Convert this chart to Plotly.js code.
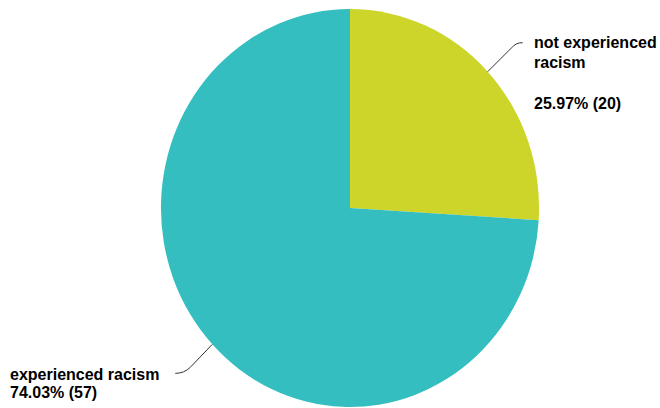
<!DOCTYPE html>
<html>
<head>
<meta charset="utf-8">
<script src="https://cdn.plot.ly/plotly-3.0.1.min.js"></script>
<style>
  html, body { margin: 0; padding: 0; background: #ffffff; }
  #chart { width: 660px; height: 408px; }
</style>
</head>
<body>
<div id="chart"></div>
<script>
// ---- data ----
const categories = ["not experienced racism", "experienced racism"];
const counts = [20, 57];
const sliceColors = ["#CDD52A", "#34BEC0"];
const labelLines = [["not experienced", "racism"], ["experienced racism"]];

// ---- layout helpers ----
const W = 660, H = 408;
const cx = 350, cy = 208, r = 199;     // pie center / radius in px
const squeeze = 0.95;                  // reference pie is slightly narrower than tall
const px = x => x / W;
const py = y => 1 - y / H;

const total = counts.reduce((a, b) => a + b, 0);
const pct = counts.map(v => (100 * v / total).toFixed(2) + "% (" + v + ")");

// mid-angle of each slice (clockwise from 12 o'clock)
let acc = 0;
const mids = counts.map(v => {
  const a0 = acc; acc += v / total * 2 * Math.PI;
  return (a0 + acc) / 2;
});
const edgePt = a => [cx + squeeze * r * Math.sin(a), cy - r * Math.cos(a)];

const p0 = edgePt(mids[0]);
const p1 = edgePt(mids[1]);
const f = (x, y) => px(x).toFixed(5) + "," + py(y).toFixed(5);

const shapes = [
  { type: "path", xref: "paper", yref: "paper",
    path: "M" + f(p0[0], p0[1]) + " L" + f(p0[0] + 24, p0[1] - 24) + " Q" + f(p0[0] + 28, p0[1] - 29) + " " + f(p0[0] + 35, p0[1] - 29),
    line: { color: "#333333", width: 1 } },
  { type: "path", xref: "paper", yref: "paper",
    path: "M" + f(p1[0], p1[1]) + " L" + f(p1[0] - 22, p1[1] + 23) + " Q" + f(p1[0] - 28, p1[1] + 29) + " " + f(p1[0] - 37, p1[1] + 29),
    line: { color: "#333333", width: 1 } }
];

const font = { family: "Arial, Liberation Sans, sans-serif", size: 16, color: "#000000" };
// one annotation per text line; baseline positions (px)
const lineItems = [
  { text: labelLines[0][0], x: 532, base: 48 },
  { text: labelLines[0][1], x: 532, base: 67 },
  { text: pct[0],           x: 532, base: 108 },
  { text: labelLines[1][0], x: 8,   base: 379 },
  { text: pct[1],           x: 8,   base: 397 }
];
const annotations = lineItems.map(it => ({
  xref: "paper", yref: "paper", x: px(it.x), y: py(it.base - 5), xanchor: "left", yanchor: "middle",
  text: "<b>" + it.text + "</b>", showarrow: false, align: "left", font: font
}));

const trace = {
  type: "pie",
  labels: categories,
  values: counts,
  sort: false,
  direction: "clockwise",
  rotation: 0,
  marker: { colors: sliceColors, line: { width: 0 } },
  textinfo: "none",
  hoverinfo: "skip",
  showlegend: false,
  domain: { x: [(cx - r) / W, (cx + r) / W], y: [1 - (cy + r) / H, 1 - (cy - r) / H] }
};

const layout = {
  width: W, height: H,
  margin: { l: 0, r: 0, t: 0, b: 0 },
  paper_bgcolor: "#ffffff",
  plot_bgcolor: "#ffffff",
  showlegend: false,
  shapes: shapes,
  annotations: annotations
};

Plotly.newPlot("chart", [trace], layout, { displayModeBar: false, staticPlot: true }).then(gd => {
  const pl = gd.querySelector(".pielayer");
  if (pl) pl.setAttribute("transform", "translate(" + cx + ",0) scale(" + squeeze + ",1) translate(" + (-cx) + ",0)");
});
</script>
</body>
</html>
